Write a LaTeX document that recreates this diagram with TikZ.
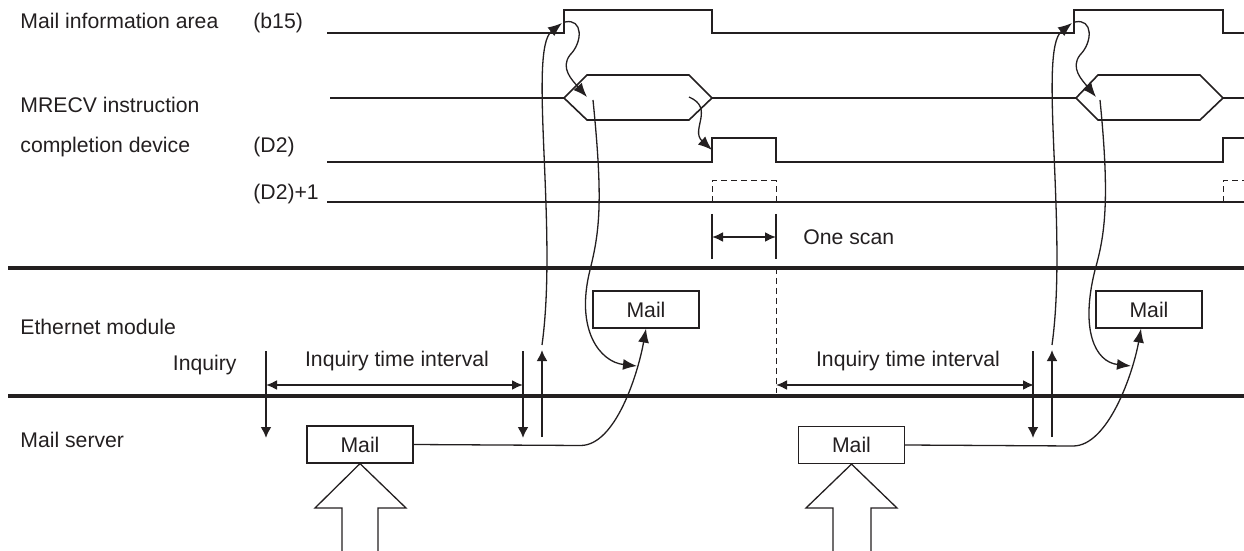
\documentclass[tikz,border=0pt]{standalone}
\usepackage{fontspec}
\setmainfont{Liberation Sans}
\usetikzlibrary{arrows.meta}
\definecolor{ink}{HTML}{231F20}
\tikzset{
  sig/.style={line width=0.8pt},
  sep/.style={line width=2pt},
  curv/.style={line width=0.65pt},
  tip/.style={-{Latex[length=7pt,width=5.5pt]}},
  arr/.style={line width=1pt,-{Latex[length=5.5pt,width=5.5pt]}},
  dim/.style={line width=1pt,{Latex[length=5.5pt,width=5pt]}-{Latex[length=5.5pt,width=5pt]}},
  dsh/.style={line width=0.5pt,dash pattern=on 3pt off 2pt},
  mailbox/.style={draw,line width=0.6pt,minimum width=53pt,minimum height=18.5pt,inner sep=0pt},
  lbl/.style={anchor=base west,inner sep=0pt}
}
\begin{document}
\begin{tikzpicture}[x=0.5pt,y=-0.5pt,color=ink,every node/.style={font=\fontsize{10.6}{13}\selectfont}]
        \useasboundingbox (0,0) rectangle (1244,551);
        \node[lbl] (lbinfo) at (20,29) {Mail information area};
        \node[lbl] (lbbit) at (253,29) {(b15)};
        \node[lbl] (lbmrecv) at (20,113) {MRECV instruction};
        \node[lbl] (lbcomp) at (20,153) {completion device};
        \node[lbl] (lbdev) at (253,153) {(D2)};
        \node[lbl] (lbdevp) at (253,200) {(D2)+1};
        \node[lbl] (lbeth) at (20,335) {Ethernet module};
        \node[lbl,anchor=base east] (lbinq) at (237,371) {Inquiry};
        \node[lbl] (lbsrv) at (20,447) {Mail server};
        \node[lbl] (lbscan) at (803,245) {One scan};
        \draw[sig] (327,33) -- (564,33) -- (564,10) -- (712,10) -- (712,33) -- (1074,33) -- (1074,10) -- (1223,10) -- (1223,33) -- (1244,33);
        \draw[line width=1.1pt] (330,98) -- (564,98);
        \draw[line width=1.1pt] (712,98) -- (1076,98);
        \draw[line width=1.1pt] (1223,98) -- (1244,98);
        \draw[sig] (564,98) -- (587,75) -- (689,75) -- (712,98) -- (689,120) -- (587,120) -- cycle;
        \draw[sig] (1076,98) -- (1098,75) -- (1200,75) -- (1223,98) -- (1200,120) -- (1098,120) -- cycle;
        \draw[sig] (327,162) -- (712,162) -- (712,138) -- (776,138) -- (776,162) -- (1223,162) -- (1223,138) -- (1244,138);
        \draw[sig] (327,202) -- (1244,202);
        \draw[dsh] (712,202) -- (712,181) -- (776,181) -- (776,202);
        \draw[dsh] (1223,202) -- (1223,181) -- (1244,181);
        \draw[dsh] (776,268) -- (776,393);
        \draw[sep] (8,268) -- (1244,268);
        \draw[sep] (8,396) -- (1244,396);
        \draw[line width=1pt] (712,214) -- (712,259);
        \draw[line width=1pt] (776,214) -- (776,259);
        \draw[dim] (712,237) -- (776,237);
        \draw[arr] (266,351) -- (266,438);
        \draw[arr] (523,351) -- (523,438);
        \draw[arr] (542,437) -- (542,350);
        \draw[dim] (266,385) -- (523,385);
        \node[inner sep=0pt,anchor=base] (int1) at (397,366) {Inquiry time interval};
        \draw[arr] (1033,351) -- (1033,438);
        \draw[arr] (1052,437) -- (1052,350);
        \draw[dim] (776,385) -- (1034,385);
        \node[inner sep=0pt,anchor=base] (int2) at (908,366) {Inquiry time interval};
        \node[mailbox] (eth1) at (646,309.5) {Mail};
        \node[mailbox] (eth2) at (1149,309.5) {Mail};
        \node[mailbox] (srv1) at (360,444.5) {Mail};
        \node[mailbox] (srv2) at (851.5,445) {Mail};
        \draw[curv] (342,553) -- (342,508) -- (315,508) -- (srv1.south) -- (406,508) -- (378,508) -- (378,553);
        \draw[curv] (833,553) -- (833,508) -- (806,508) -- (srv2.south) -- (897,508) -- (871,508) -- (871,553);
        \draw[curv,tip] (srv1.east) -- ++(167,1) .. controls +(35,0) and +(-8,45) .. (eth1.south);
        \draw[curv,tip] (srv2.east) -- ++(168,1) .. controls +(35,0) and +(-8,45) .. ([xshift=-4pt]eth2.south);
        \draw[curv,tip] (542,345) .. controls (558,230) and (528,50) .. (562,23);
        \draw[curv,tip] (565,22) .. controls (583,18) and (583,42) .. (570,55) .. controls (560,68) and (572,80) .. (587,97);
        \draw[curv,tip] (593,100) .. controls (603,200) and (600,230) .. (590,270) .. controls (575,330) and (600,362) .. (637,366);
        \draw[curv,tip] (689,97) .. controls (715,108) and (690,130) .. (712,150);
        \draw[curv,tip] (1052,345) .. controls (1068,230) and (1038,50) .. (1072,23);
        \draw[curv,tip] (1075,22) .. controls (1093,18) and (1093,42) .. (1080,55) .. controls (1070,68) and (1082,80) .. (1096,97);
        \draw[curv,tip] (1100,100) .. controls (1110,200) and (1105,235) .. (1095,270) .. controls (1080,330) and (1095,362) .. (1131,366);
    \end{tikzpicture}
\end{document}
